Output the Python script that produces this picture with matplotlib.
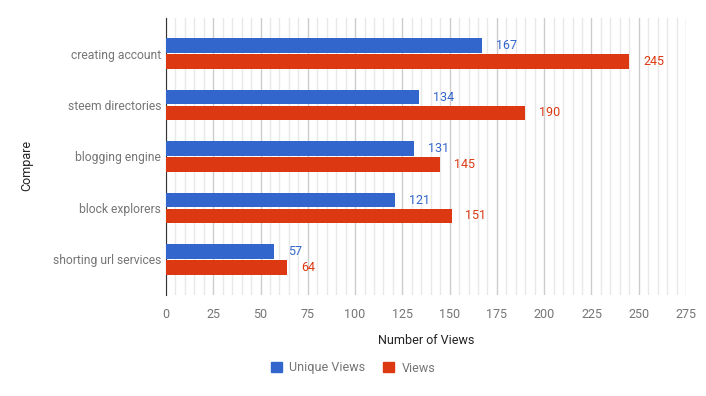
import numpy as np
import matplotlib.pyplot as plt
from matplotlib.patches import Patch

categories = ['creating account', 'steem directories', 'blogging engine',
              'block explorers', 'shorting url services']
unique_views = [167, 134, 131, 121, 57]
views = [245, 190, 145, 151, 64]

blue = '#3366cc'
red = '#dc3912'
grey = '#757575'

plt.rcParams['font.family'] = ['Roboto', 'DejaVu Sans']

fig = plt.figure(figsize=(7.06, 3.96), dpi=100)
ax = fig.add_axes([166 / 706, 1 - 295 / 396, 520 / 706, 277 / 396])

y = np.arange(len(categories))
h = 0.29
gap = 0.02
b1 = ax.barh(y - h / 2 - gap / 2, unique_views, height=h, color=blue, zorder=3)
b2 = ax.barh(y + h / 2 + gap / 2, views, height=h, color=red, zorder=3)

for bars, vals, c in [(b1, unique_views, blue), (b2, views, red)]:
    for bar, v in zip(bars, vals):
        ax.annotate(str(v), (v, bar.get_y() + bar.get_height() / 2),
                    xytext=(10, 0), textcoords='offset points',
                    va='center', ha='left', color=c, fontsize=9)

ax.set_xlim(0, 275)
ax.set_ylim(4.69, -0.69)
ax.set_xticks(np.arange(0, 276, 25))
ax.set_xticks(np.arange(0, 276, 5), minor=True)
ax.grid(axis='x', which='major', color='#cccccc', lw=1, zorder=0)
ax.grid(axis='x', which='minor', color='#e8e8e8', lw=1, zorder=0)
ax.set_yticks(y)
ax.set_yticklabels(categories)
ax.tick_params(axis='both', which='both', length=0, colors=grey, labelsize=9)
ax.tick_params(axis='x', pad=9)
ax.tick_params(axis='y', pad=3.5, labelsize=8.7)

for s in ['top', 'right', 'bottom']:
    ax.spines[s].set_visible(False)
ax.spines['left'].set_color('#333333')

ax.set_xlabel('Number of Views', fontsize=9, color='#222222', labelpad=10)
fig.text(27 / 706, 1 - 165 / 396, 'Compare', rotation=90, ha='center',
         va='center', fontsize=9, color='#222222')

handles = [Patch(color=blue, label='Unique Views'), Patch(color=red, label='Views')]
leg = fig.legend(handles=handles, loc='center', ncol=2, frameon=False,
                 bbox_to_anchor=(353 / 706, 1 - 368 / 396), fontsize=9,
                 handlelength=0.9, handleheight=0.9, handletextpad=0.6,
                 columnspacing=1.4)
for t in leg.get_texts():
    t.set_color(grey)

fig.savefig('out.png', dpi=100)
